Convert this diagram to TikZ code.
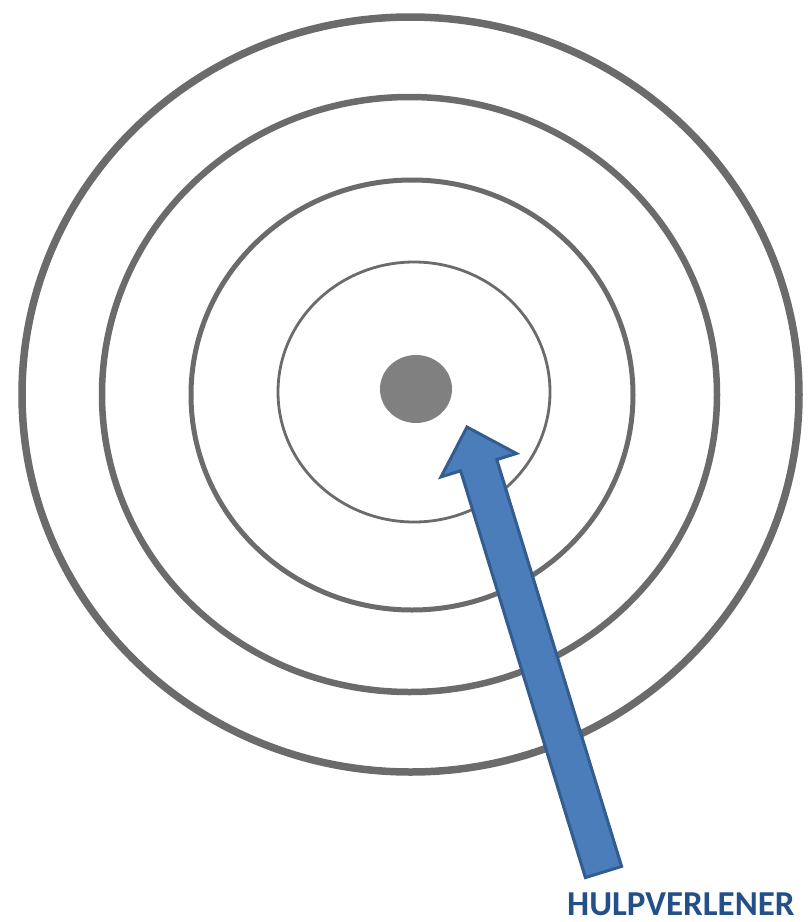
\documentclass[tikz,border=0pt]{standalone}
\usepackage{fontspec}
\usetikzlibrary{shapes.geometric}
\setmainfont{Carlito}
\definecolor{ringgray}{HTML}{6B6B6B}
\definecolor{dotgray}{HTML}{808080}
\definecolor{arrowfill}{HTML}{4A7DBA}
\definecolor{arrowline}{HTML}{335C8F}
\definecolor{labelblue}{HTML}{24508A}
\tikzset{
  ring/.style={draw=ringgray},
  blockarrow/.style={fill=arrowfill, draw=arrowline, line width=3pt, line join=miter},
  lbl/.style={text=labelblue, font=\bfseries\fontsize{35}{40}\selectfont, inner sep=0pt, anchor=base west},
  centredot/.style={fill=dotgray, ellipse, inner sep=0pt, minimum width=72pt, minimum height=68pt}
}
\begin{document}
\begin{tikzpicture}[x=1pt,y=-1pt]
\useasboundingbox (0,0) rectangle (812,922);
\fill[white] (0,0) rectangle (812,922);
% rings
\draw[ring, line width=7.5pt] (410.5,394.5) ellipse [x radius=388.5, y radius=377.5];
\draw[ring, line width=6.5pt] (409.5,394.5) ellipse [x radius=307.5, y radius=297.5];
\draw[ring, line width=5pt] (412,395) ellipse [x radius=221, y radius=215];
\draw[ring, line width=2.8pt] (414,392) ellipse [x radius=136, y radius=130];
% centre dot
\node[centredot] (centre) at (416,389) {};
% block arrow
\coordinate (tip) at (467,427);
\coordinate (rw) at (516.4,453.5);
\coordinate (rj) at (496.8,459.6);
\coordinate (br) at (621.6,866.4);
\coordinate (bl) at (585.4,877.6);
\coordinate (lj) at (460.6,470.8);
\coordinate (lw) at (441,476.9);
\draw[blockarrow] (tip) -- (rw) -- (rj) -- (br) -- (bl) -- (lj) -- (lw) -- cycle;
% label
\node[lbl] (helper) at (567,915) {HULPVERLENER};
\end{tikzpicture}
\end{document}
